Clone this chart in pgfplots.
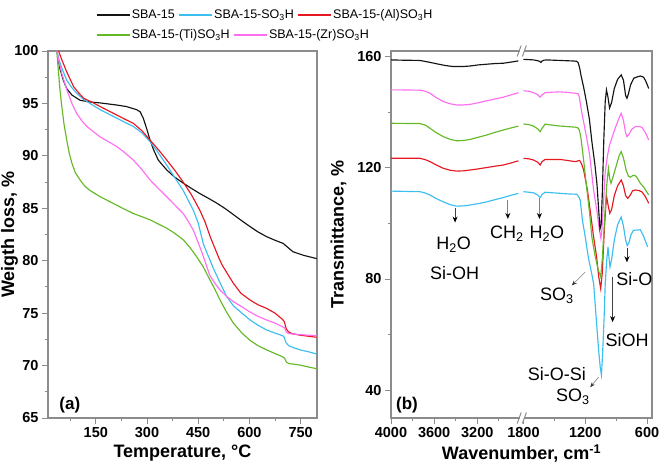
\documentclass[border=0pt]{standalone}
\usepackage{fontspec}
\setmainfont{Liberation Sans}
\usepackage{pgfplots}
\usepackage{pgfplotstable}
\pgfplotsset{compat=1.18}
\usetikzlibrary{arrows.meta}

\definecolor{cSBA}{RGB}{20,20,20}
\definecolor{cSO}{RGB}{60,190,240}
\definecolor{cAl}{RGB}{230,25,35}
\definecolor{cTi}{RGB}{100,185,40}
\definecolor{cZr}{RGB}{255,110,240}
\definecolor{frame}{RGB}{140,140,140}
\newcommand{\annot}{\fontsize{18}{20}\selectfont}

\pgfplotsset{
  myaxis/.style={
    scale only axis, height=367pt,
    axis line style={frame, line width=1.1pt},
    tick style={frame, line width=0.9pt},
    tick align=outside, major tick length=6pt, minor tick length=3pt,
    xtick pos=left, ytick pos=left,
    tick label style={font=\fontsize{14.5}{16}\selectfont\bfseries},
    /pgf/number format/assume math mode=true,
    label style={font=\fontsize{18}{20}\selectfont\bfseries},
    every axis plot/.append style={line width=1.15pt, no markers},
    legend style={draw=none, fill=none, inner sep=0pt, outer sep=0pt,
      font=\fontsize{12.5}{14}\selectfont, nodes={inner sep=1.5pt},
      /tikz/every even column/.append style={column sep=2pt}},
    legend image code/.code={\draw[#1,line width=1.3pt] (0pt,0pt) -- (33pt,0pt);},
  }
}

% ---------------- TGA data (temperature, weight %) ----------------
\pgfplotstableread{
T w
36 100
45 98.3
55 97.2
65 96.4
80 95.8
104 95.3
130 95.15
162 95.05
211 94.85
240 94.7
260 94.5
270 94.4
280 94.2
289 93.6
299 92.6
309 91.5
319 90.6
333 89.6
358 88.65
380 88.0
406 87.4
430 86.9
455 86.4
480 85.95
504 85.5
530 84.95
553 84.4
578 83.8
602 83.25
625 82.75
650 82.3
675 81.95
699 81.65
715 81.2
728 80.85
760 80.5
797 80.2
}\tgaSBA

\pgfplotstableread{
T w
36 100
42 99.2
50 98.4
65 97.2
80 96.5
94 95.96
114 95.4
133 95.0
163 94.4
187 94.0
211 93.6
235 93.2
260 92.8
285 92.2
309 91.35
333 90.3
358 89.1
382 87.9
406 86.7
436 84.8
450 83.6
465 81.6
475 80.8
494 79.3
514 77.9
533 76.6
553 75.7
578 75.0
602 74.35
625 73.85
650 73.4
675 73.1
697 72.85
702 72.7
707 72.2
715 71.9
730 71.7
748 71.5
775 71.3
797 71.1
}\tgaSO

\pgfplotstableread{
T w
41 100
50 99.2
65 98.0
85 96.6
100 96.0
114 95.5
140 95.1
163 94.7
187 94.3
211 93.9
235 93.5
260 93.1
285 92.4
309 91.5
333 90.6
358 89.6
382 88.6
406 87.5
430 86.3
455 84.8
470 83.7
485 82.3
500 81.1
510 80.3
520 79.6
533 78.9
553 77.85
575 76.9
602 76.25
625 75.8
650 75.46
675 75.0
697 74.4
702 74.2
708 73.5
715 73.2
725 73.05
748 72.9
797 72.7
}\tgaAl

\pgfplotstableread{
T w
36 100
38 99.0
41 97.9
45 96.3
50.5 94.7
57 93.0
65 91.5
72 90.3
80 89.3
90 88.4
104 87.7
118 87.1
133 86.7
163 86.1
187 85.7
211 85.3
235 84.9
260 84.5
285 84.2
309 83.9
333 83.5
358 83.1
382 82.6
406 82.0
425 81.3
445 80.4
465 79.4
484 78.2
500 77.2
514 76.25
533 75.1
553 74.05
578 73.1
602 72.4
625 71.9
650 71.5
675 71.15
697 70.85
703 70.7
708 70.35
715 70.2
748 70.05
775 69.85
797 69.7
}\tgaTi

\pgfplotstableread{
T w
36 100
42 99.0
50 97.9
65 96.3
80 95.0
94 94.05
110 93.3
124 92.8
143 92.3
163 91.8
187 91.35
211 90.9
235 90.3
260 89.6
285 88.7
309 87.7
333 86.9
358 86.1
382 85.3
406 84.5
420 83.8
436 82.9
455 81.3
465 80.4
484 78.6
500 77.8
514 77.2
533 76.6
553 76.1
578 75.6
602 75.1
625 74.7
650 74.35
675 74.05
697 73.7
703 73.6
708 73.2
715 73.05
748 72.95
797 72.85
}\tgaZr

% ---------------- FTIR data (wavenumber cm-1, transmittance %) ----------------
\pgfplotstableread{
k t
4000 158.8
3900 158.7
3731 158.6
3650 158.0
3576 157.4
3500 156.8
3422 156.4
3340 156.4
3267 156.6
3190 157.0
3112 157.25
3030 157.5
2958 157.6
2890 158.0
2819 158.45
2300 nan
1800 159.0
1746 158.9
1703 158.8
1662 158.5
1645 158.3
1631 157.9
1620 158.4
1600 158.7
1573 158.8
1515 158.7
1444 158.6
1379 158.5
1314 158.4
1284 158.3
1269 157.8
1255 156.0
1240 153.0
1216 149.0
1190 144.0
1160 137.5
1136 129.5
1106 121.0
1086 114.0
1070 105.0
1057 98.0
1046 99.5
1035 110.0
1020 130.0
1006 144.0
994 148.0
980 145.5
964 141.5
944 143.5
918 148.5
886 151.8
851 153.4
829 151.5
808 146.0
795 145.0
781 146.5
760 149.8
729 152.2
687 152.8
665 153.0
634 152.6
614 151.3
594 149.5
584 148.5
}\irSBA

\pgfplotstableread{
k t
4000 148.0
3900 148.0
3731 147.9
3680 147.5
3638 146.8
3580 145.2
3515 143.8
3450 143.0
3391 142.6
3330 142.6
3267 142.8
3190 143.4
3112 144.1
3030 144.8
2958 145.4
2890 146.2
2819 147.0
2300 nan
1800 147.7
1746 147.5
1703 147.0
1662 146.3
1638 145.4
1620 146.2
1590 147.0
1515 147.2
1444 147.3
1368 147.1
1297 146.8
1270 146.6
1258 145.5
1245 142.5
1232 139.5
1216 136.5
1190 131.5
1159 125.0
1119 112.0
1085 104.0
1064 98.0
1048 94.6
1038 98.0
1022 108.0
1007 118.0
986 124.0
965 128.0
939 131.0
907 134.5
876 137.5
851 139.6
829 137.0
808 132.5
795 131.2
776 132.0
750 133.8
714 134.8
677 134.9
649 134.5
614 132.5
584 130.0
}\irZr

\pgfplotstableread{
k t
4000 136.0
3731 135.9
3680 135.3
3638 134.2
3580 132.6
3515 131.2
3450 130.2
3391 129.7
3330 129.8
3267 130.2
3190 131.0
3112 131.8
3030 132.8
2958 133.6
2890 134.3
2819 135.0
2300 nan
1800 135.75
1746 135.5
1703 135.0
1662 134.0
1638 133.0
1620 134.2
1590 135.7
1515 135.3
1444 135.0
1368 134.8
1297 134.6
1270 134.3
1258 133.6
1243 131.0
1216 122.8
1190 114.0
1159 104.0
1136 95.1
1106 88.5
1075 83.5
1050 80.7
1033 88.0
1012 102.0
991 114.0
975 119.8
962 116.0
950 114.4
928 117.0
897 121.0
870 124.5
851 125.8
829 123.5
802 119.0
781 117.0
760 116.6
739 117.2
719 117.3
698 116.5
665 114.4
635 113.2
594 110.8
584 110.3
}\irTi

\pgfplotstableread{
k t
4000 123.4
3731 123.4
3680 122.9
3638 122.2
3580 121.0
3515 119.8
3450 119.1
3391 118.8
3330 118.9
3267 119.2
3190 119.6
3112 120.1
3030 120.6
2958 121.0
2890 121.7
2819 122.5
2300 nan
1800 123.4
1746 123.2
1703 122.8
1662 122.0
1638 121.0
1620 122.2
1590 123.0
1515 123.0
1444 123.0
1368 122.6
1297 122.2
1270 122.5
1255 122.6
1237 121.5
1216 119.2
1179 112.0
1148 103.5
1119 95.1
1090 88.0
1070 81.0
1050 76.5
1035 82.0
1017 96.0
1001 106.0
992 109.5
978 106.5
962 103.6
944 105.0
918 110.0
886 113.5
851 115.6
829 113.5
808 110.0
787 109.0
766 110.0
739 111.8
714 112.0
677 111.8
649 111.3
614 109.5
584 107.2
}\irAl

\pgfplotstableread{
k t
4000 111.6
3731 111.4
3680 110.9
3638 110.2
3580 108.9
3515 107.75
3450 106.7
3391 106.2
3330 106.3
3267 106.6
3190 107.1
3112 107.75
3030 108.6
2958 109.3
2890 110.1
2819 110.8
2300 nan
1800 111.4
1746 111.2
1703 111.0
1662 110.2
1638 109.3
1620 110.4
1590 111.2
1515 111.0
1444 110.8
1368 110.6
1297 110.5
1281 110.5
1263 109.5
1249 108.4
1227 101.0
1200 95.1
1169 87.5
1138 82.0
1119 78.4
1096 67.0
1070 54.3
1054 48.0
1043 45.5
1033 52.0
1017 66.0
1006 78.4
991 87.0
979 91.5
968 87.0
960 84.3
944 87.0
918 94.0
886 99.5
851 102.3
829 99.0
808 94.0
792 92.0
776 93.0
755 96.0
731 97.5
698 97.6
665 97.7
635 95.5
614 93.5
594 91.5
}\irSO

\begin{document}
\begin{tikzpicture}
\path[use as bounding box] (-48pt,-56pt) rectangle (613pt,418pt);
% ---------------- (a) TGA ----------------
\begin{axis}[myaxis, at={(0pt,0pt)}, anchor=south west, width=269pt,
  xmin=10, xmax=798, ymin=65, ymax=100,
  xtick={150,300,450,600,750}, minor xtick={75,225,375,525,675},
  ytick={65,70,75,80,85,90,95,100}, minor ytick={67.5,72.5,77.5,82.5,87.5,92.5,97.5},
  xlabel={Temperature, °C}, ylabel={Weigth loss, \%},
  ylabel style={at={(axis description cs:-0.143,0.5)}, anchor=center},
  legend style={at={(0.1784,1.098)}, anchor=west}, legend columns=3,
]
\addplot[cSBA] table[x=T, y=w] {\tgaSBA}; \addlegendentry{SBA-15}
\addplot[cSO] table[x=T, y=w] {\tgaSO}; \addlegendentry{SBA-15-SO\textsubscript{3}H}
\addplot[cAl] table[x=T, y=w] {\tgaAl}; \addlegendentry{SBA-15-(Al)SO\textsubscript{3}H}
\addplot[cTi, forget plot] table[x=T, y=w] {\tgaTi};
\addplot[cZr, forget plot] table[x=T, y=w] {\tgaZr};
\node[anchor=west, inner sep=0pt, font=\fontsize{17}{19}\selectfont\bfseries] at (rel axis cs:0.042,0.035) {(a)};
\end{axis}

% ---------------- (b) FTIR ----------------
\begin{axis}[myaxis, at={(343pt,0pt)}, anchor=south west, width=261pt,
  x dir=reverse, xmin=1581, xmax=4000, ymin=30, ymax=162,
  clip=false, unbounded coords=jump,
  xtick={4000,3600,3200,2772,2200,1627},
  xticklabels={4000,3600,3200,1800,1200,600},
  minor xtick={3800,3400,3000,2486,1913},
  ytick={40,80,120,160}, minor ytick={60,100,140},
  xlabel={Wavenumber, cm\textsuperscript{-1}}, ylabel={Transmittance, \%},
  ylabel style={at={(axis description cs:-0.201,0.5)}, anchor=center},
  legend style={at={(-1.1303,1.0436)}, anchor=west}, legend columns=2,
]
\addplot[cSO, forget plot] table[x expr={\thisrowno{0}>2000 ? \thisrowno{0} : 2772-(1800-\thisrowno{0})*0.9542}, y index=1] {\irSO};
\addplot[cAl, forget plot] table[x expr={\thisrowno{0}>2000 ? \thisrowno{0} : 2772-(1800-\thisrowno{0})*0.9542}, y index=1] {\irAl};
\addplot[cTi] table[x expr={\thisrowno{0}>2000 ? \thisrowno{0} : 2772-(1800-\thisrowno{0})*0.9542}, y index=1] {\irTi};
\addlegendentry{SBA-15-(Ti)SO\textsubscript{3}H}
\addplot[cZr] table[x expr={\thisrowno{0}>2000 ? \thisrowno{0} : 2772-(1800-\thisrowno{0})*0.9542}, y index=1] {\irZr};
\addlegendentry{SBA-15-(Zr)SO\textsubscript{3}H}
\addplot[cSBA, forget plot] table[x expr={\thisrowno{0}>2000 ? \thisrowno{0} : 2772-(1800-\thisrowno{0})*0.9542}, y index=1] {\irSBA};

% axis break marks
\draw[white, line width=3pt] ([xshift=-1.8pt]axis cs:2788,162) -- ([xshift=1.8pt]axis cs:2788,162);
\draw[white, line width=3pt] ([xshift=-1.8pt]axis cs:2788,30) -- ([xshift=1.8pt]axis cs:2788,30);
\draw[frame, line width=1pt] ([xshift=-4.6pt,yshift=-5.5pt]axis cs:2788,162) -- ([xshift=-0.6pt,yshift=5.5pt]axis cs:2788,162);
\draw[frame, line width=1pt] ([xshift=0.6pt,yshift=-5.5pt]axis cs:2788,162) -- ([xshift=4.6pt,yshift=5.5pt]axis cs:2788,162);
\draw[frame, line width=1pt] ([xshift=-4.6pt,yshift=-5.5pt]axis cs:2788,30) -- ([xshift=-0.6pt,yshift=5.5pt]axis cs:2788,30);
\draw[frame, line width=1pt] ([xshift=0.6pt,yshift=-5.5pt]axis cs:2788,30) -- ([xshift=4.6pt,yshift=5.5pt]axis cs:2788,30);

% annotations
\draw[black!75, line width=0.8pt, -{Stealth[length=6pt,width=5pt,black]}] (axis cs:3406,105.4) -- (axis cs:3406,100.3);
\node[font=\annot] at (axis cs:3420,92.3) {H\textsubscript{2}O};
\node[font=\annot] at (axis cs:3410,82) {Si-OH};
\draw[gray, line width=0.8pt, -{Stealth[length=6pt,width=5pt,black]}] (axis cs:2917,108.3) -- (axis cs:2917,101.6);
\node[font=\annot] at (axis cs:2926,96.4) {CH\textsubscript{2}};
\draw[gray, line width=0.8pt, -{Stealth[length=6pt,width=5pt,black]}] (axis cs:2624,109) -- (axis cs:2624,101.6);
\node[font=\annot] at (axis cs:2555,96.2) {H\textsubscript{2}O};
\draw[gray, line width=0.6pt, -{Stealth[length=5pt,width=4pt,black!80]}] (axis cs:2200,82.5) -- (axis cs:2324,77.7);
\node[font=\annot] at (axis cs:2462,74.1) {SO\textsubscript{3}};
\draw[black!80, line width=0.8pt, -{Stealth[length=6pt,width=5pt,black]}] (axis cs:1813,91) -- (axis cs:1813,86);
\node[font=\annot] at (axis cs:1745,80) {Si-O};
\draw[black!75, line width=0.6pt, -{Stealth[length=6pt,width=5pt,black]}] (axis cs:1946,80.7) -- (axis cs:1946,64.5);
\node[font=\annot] at (axis cs:1811,58.2) {SiOH};
\draw[gray, line width=0.6pt, -{Stealth[length=5pt,width=4pt,black!80]}] (axis cs:2076,44.7) -- (axis cs:2153,41.1);
\node[font=\annot] at (axis cs:2462,45.9) {Si-O-Si};
\node[font=\annot] at (axis cs:2314,37.5) {SO\textsubscript{3}};
\node[anchor=west, inner sep=0pt, font=\fontsize{17}{19}\selectfont\bfseries] at (rel axis cs:0.019,0.035) {(b)};
\end{axis}
\end{tikzpicture}
\end{document}
